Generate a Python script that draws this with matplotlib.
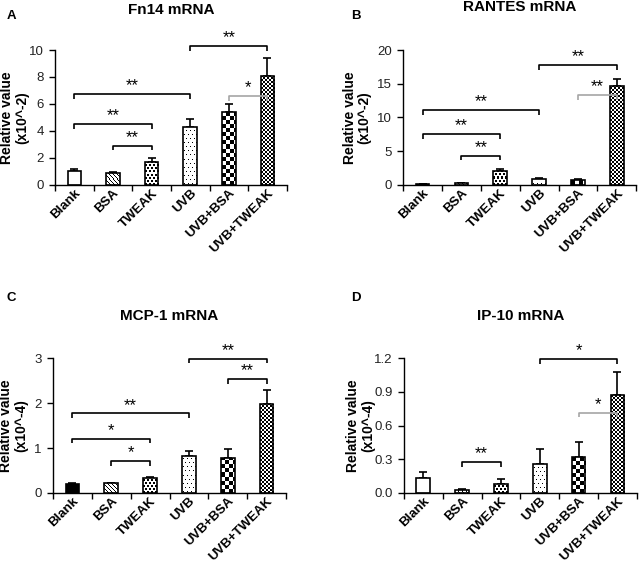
import numpy as np
import matplotlib
matplotlib.use("Agg")
import matplotlib.pyplot as plt
from matplotlib.ticker import FormatStrFormatter

plt.rcParams['font.family'] = ['Liberation Sans', 'DejaVu Sans']

categories = ["Blank", "BSA", "TWEAK", "UVB", "UVB+BSA", "UVB+TWEAK"]

fn14_vals = [1.04, 0.91, 1.73, 4.32, 5.43, 8.07]
fn14_err = [0.15, 0.07, 0.25, 0.55, 0.57, 1.31]
rantes_vals = [0.10, 0.25, 2.12, 0.89, 0.80, 14.67]
rantes_err = [0.05, 0.05, 0.25, 0.10, 0.12, 1.03]
mcp1_vals = [0.20, 0.22, 0.33, 0.83, 0.78, 1.97]
mcp1_err = [0.02, 0.01, 0.03, 0.10, 0.20, 0.33]
ip10_vals = [0.13, 0.03, 0.08, 0.255, 0.32, 0.868]
ip10_err = [0.06, 0.004, 0.044, 0.135, 0.133, 0.208]

# brackets: (i, j, height, label, colour)
fn14_brackets = [(0, 3, 6.72, "**", "k"), (0, 2, 4.52, "**", "k"), (1, 2, 2.91, "**", "k"),
                 (3, 5, 10.3, "**", "k"), (4, 5, 6.6, "*", "#a6a6a6")]
rantes_brackets = [(0, 3, 11.1, "**", "k"), (0, 2, 7.55, "**", "k"), (1, 2, 4.35, "**", "k"),
                   (3, 5, 17.8, "**", "k"), (4, 5, 13.3, "**", "#a6a6a6")]
mcp1_brackets = [(0, 3, 1.77, "**", "k"), (0, 2, 1.21, "*", "k"), (1, 2, 0.71, "*", "k"),
                 (3, 5, 2.99, "**", "k"), (4, 5, 2.53, "**", "k")]
ip10_brackets = [(1, 2, 0.276, "**", "k"), (3, 5, 1.19, "*", "k"), (4, 5, 0.714, "*", "#a6a6a6")]

fn14_ticks = [0, 2, 4, 6, 8, 10]
rantes_ticks = [0, 5, 10, 15, 20]
mcp1_ticks = [0, 1, 2, 3]
ip10_ticks = [0.0, 0.3, 0.6, 0.9, 1.2]

patterns = ["white", "diag", "blobs", "dots", "checker", "fine"]

fig = plt.figure(figsize=(6.42, 5.62), dpi=100)


def pattern_array(kind, ny, nx):
    i = np.arange(ny)[:, None]
    j = np.arange(nx)[None, :]
    if kind == "checker":
        a = ((i // 4) + (j // 4)) % 2
    elif kind == "fine":
        a = ((i // 2) + (j // 2)) % 2
    elif kind == "dots":
        a = np.where(((i % 4) == 1) & (((j + 2 * ((i // 4) % 2)) % 4) == 1), 0, 1)
    elif kind == "blobs":
        shift = 2 * ((i // 3) % 2)
        a = np.where((((j + shift) % 4) < 2) & ((i % 3) < 2), 0, 1)
    elif kind == "diag":
        a = np.where(((i + j) % 4) == 0, 0, 1)
    else:
        a = np.ones((ny, nx))
    return a.astype(float)


def panel(rect, vals, errs, ticks, fmt, ylabel, ylab_off, title, letter, letter_xy, title_y, brackets,
          first_black=False):
    ax = fig.add_axes(rect)
    x = np.arange(len(categories))
    ymax = ticks[-1]
    ax.set_xlim(-0.5, len(categories) - 0.5)
    ax.set_ylim(0, ymax)
    ax.errorbar(x, vals, yerr=[np.zeros(len(vals)), errs], fmt='none', ecolor='k',
                elinewidth=1.2, capsize=3, capthick=1.2, zorder=1)
    bars = ax.bar(x, vals, width=0.35, color='white', edgecolor='none', zorder=2)
    fig.canvas.draw()
    for k, b in enumerate(bars):
        kind = patterns[k]
        if k == 0 and first_black:
            b.set_facecolor('black')
            continue
        if kind == "white":
            continue
        x0, y0 = b.get_x(), b.get_y()
        w, h = b.get_width(), b.get_height()
        p0 = ax.transData.transform((x0, y0))
        p1 = ax.transData.transform((x0 + w, y0 + h))
        nx = max(1, int(round(p1[0] - p0[0])))
        ny = max(1, int(round(p1[1] - p0[1])))
        arr = pattern_array(kind, ny, nx)[::-1]
        im = ax.imshow(arr, cmap='gray', vmin=0, vmax=1, extent=(x0, x0 + w, y0, y0 + h),
                       interpolation='nearest', aspect='auto', zorder=2.5)
        im.set_clip_path(b)
    ax.bar(x, vals, width=0.35, fill=False, edgecolor='black', linewidth=1.2, zorder=3)
    ax.set_aspect('auto')
    ax.set_xlim(-0.5, len(categories) - 0.5)
    ax.set_ylim(0, ymax)

    for s in ['top', 'right']:
        ax.spines[s].set_visible(False)
    for s in ['left', 'bottom']:
        ax.spines[s].set_linewidth(1.0)
    ax.set_yticks(ticks)
    if fmt:
        ax.yaxis.set_major_formatter(FormatStrFormatter(fmt))
    ax.tick_params(axis='y', labelsize=9.5, length=4, width=1.0, pad=4, labelcolor='#222222')
    ax.set_xticks(np.arange(-0.5, len(categories), 1.0))
    ax.set_xticklabels([])
    ax.tick_params(axis='x', length=4, width=1.0)
    ax.set_xticks(x, minor=True)
    ax.set_xticklabels(categories, minor=True, rotation=45, ha='right', rotation_mode='anchor',
                       fontsize=9.5, fontweight='bold')
    ax.tick_params(axis='x', which='minor', length=0, pad=1.5)

    fig.text(rect[0] - ylab_off / 642, rect[1] + rect[3] / 2, ylabel, rotation=90,
             ha='center', va='center', fontsize=10, fontweight='bold', linespacing=1.1,
             multialignment='center')

    tick = 0.035 * ymax
    for (i, j, yb, lab, col) in brackets:
        ax.plot([x[i], x[i], x[j], x[j]], [yb - tick, yb, yb, yb - tick], color=col,
                lw=1.2, zorder=4, clip_on=False, solid_capstyle='butt')
        ax.text((x[i] + x[j]) / 2, yb + 0.005 * ymax, lab, ha='center', va='bottom',
                fontsize=12, zorder=5, clip_on=False)

    cx = rect[0] + rect[2] / 2
    fig.text(cx, title_y, title, ha='center', va='center', fontsize=11, fontweight='bold')
    fig.text(letter_xy[0], letter_xy[1], letter, ha='left', va='center', fontsize=9.5, fontweight='bold')
    return ax


H = 0.240
panel([0.0857, 0.671, 0.361, H], fn14_vals, fn14_err, fn14_ticks, None,
      "Relative value\n(x10^-2)", 40, "Fn14 mRNA", "A", (0.010, 1 - 16 / 562), 1 - 10 / 562, fn14_brackets)
panel([0.628, 0.671, 0.363, H], rantes_vals, rantes_err, rantes_ticks, None,
      "Relative value\n(x10^-2)", 46, "RANTES mRNA", "B", (0.547, 1 - 16 / 562), 1 - 7 / 562, rantes_brackets)
panel([0.0826, 0.1228, 0.363, H], mcp1_vals, mcp1_err, mcp1_ticks, None,
      "Relative value\n(x10^-4)", 39, "MCP-1 mRNA", "C", (0.010, 1 - 298 / 562), 1 - 316 / 562, mcp1_brackets,
      first_black=True)
panel([0.629, 0.1228, 0.363, H], ip10_vals, ip10_err, ip10_ticks, '%.1f',
      "Relative value\n(x10^-4)", 43, "IP-10 mRNA", "D", (0.547, 1 - 298 / 562), 1 - 316 / 562, ip10_brackets)

fig.savefig("out.png", dpi=100)
